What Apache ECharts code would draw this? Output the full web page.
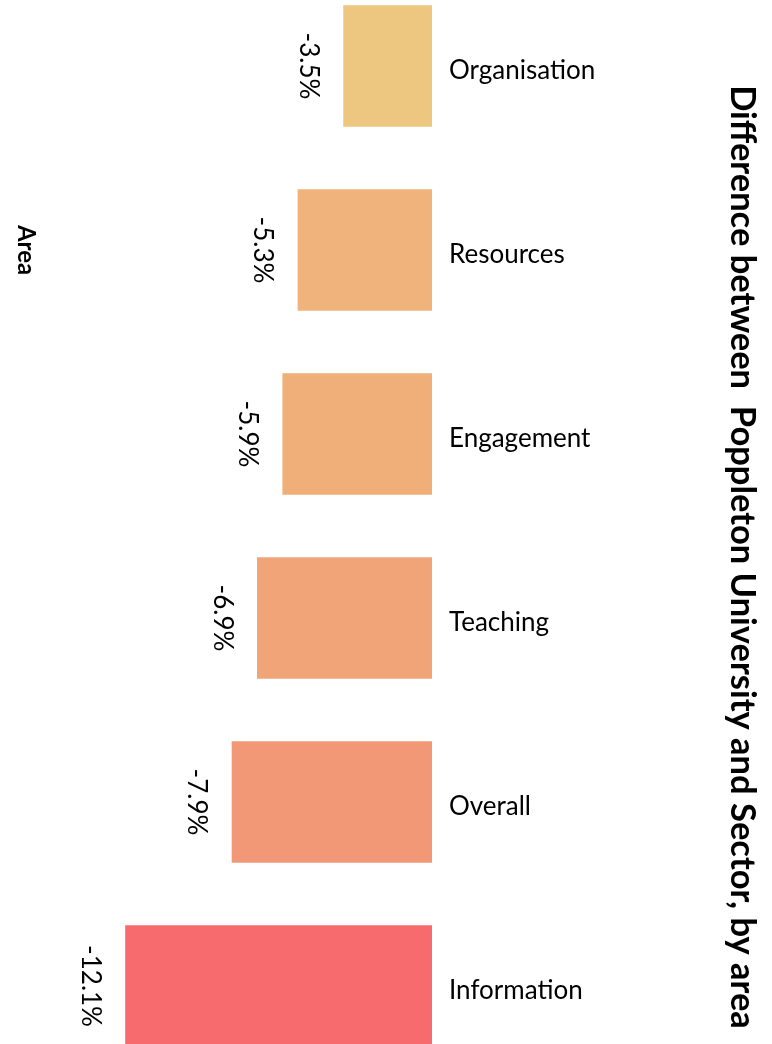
<!DOCTYPE html>
<html>
<head>
<meta charset="utf-8">
<script src="https://cdn.jsdelivr.net/npm/echarts@6/dist/echarts.min.js"></script>
<style>
  html, body { margin: 0; padding: 0; background: #ffffff; overflow: hidden; width: 772px; height: 1044px; }
  /* the bar band runs a little past the page edges, so the canvas is taller and shifted up */
  #chart { position: absolute; left: 0; top: -26px; width: 772px; height: 1104px; }
</style>
</head>
<body>
<div id="chart"></div>
<script>
// Areas surveyed and the gap (percentage points) to the sector average
const areas = ['Organisation', 'Resources', 'Engagement', 'Teaching', 'Overall', 'Information'];
const differences = [-3.5, -5.3, -5.9, -6.9, -7.9, -12.1];

// Fill for each bar, warmer as the gap widens
const barColors = ['#EDC67F', '#EFB37B', '#F0AE79', '#F1A477', '#F39877', '#F76B6F'];

const titleText = 'Difference between  Poppleton University and Sector, by area';
const axisTitle = 'Area';

const FONT = 'Lato, "Open Sans", sans-serif';
const SHIFT = 26; // canvas offset above the page

const chart = echarts.init(document.getElementById('chart'), null, { renderer: 'canvas' });

chart.setOption({
  animation: false,
  backgroundColor: '#ffffff',
  grid: { left: 77, right: 340, top: 0, bottom: 0, containLabel: false },
  xAxis: {
    type: 'value',
    min: -14,
    max: 0,
    show: false
  },
  yAxis: {
    type: 'category',
    data: areas,
    inverse: true,
    position: 'right',
    axisLine: { show: false },
    axisTick: { show: false },
    splitLine: { show: false },
    axisLabel: {
      margin: 17,
      formatter: v => '{c|' + v + '}',
      rich: {
        c: {
          fontFamily: FONT,
          fontSize: 26,
          color: '#000000',
          padding: [10, 0, 0, 0]
        }
      }
    }
  },
  series: [{
    type: 'bar',
    barWidth: '66%',
    data: differences.map((v, i) => ({ value: v, itemStyle: { color: barColors[i] } })),
    label: {
      show: true,
      position: 'left',
      distance: 22,
      rotate: -90,
      align: 'center',
      verticalAlign: 'top',
      fontFamily: FONT,
      fontSize: 26,
      color: '#000000',
      formatter: p => p.value.toFixed(1) + '%'
    }
  }],
  graphic: [
    {
      type: 'text',
      x: 742,
      y: 557 + SHIFT,
      rotation: -Math.PI / 2,
      style: {
        text: titleText,
        fontFamily: FONT,
        fontWeight: 'bold',
        fontSize: 34.5,
        fill: '#000000',
        align: 'center',
        verticalAlign: 'middle'
      }
    },
    {
      type: 'text',
      x: 26,
      y: 250 + SHIFT,
      rotation: -Math.PI / 2,
      style: {
        text: axisTitle,
        fontFamily: FONT,
        fontWeight: 'bold',
        fontSize: 24,
        fill: '#000000',
        align: 'center',
        verticalAlign: 'middle'
      }
    }
  ]
});
</script>
</body>
</html>
